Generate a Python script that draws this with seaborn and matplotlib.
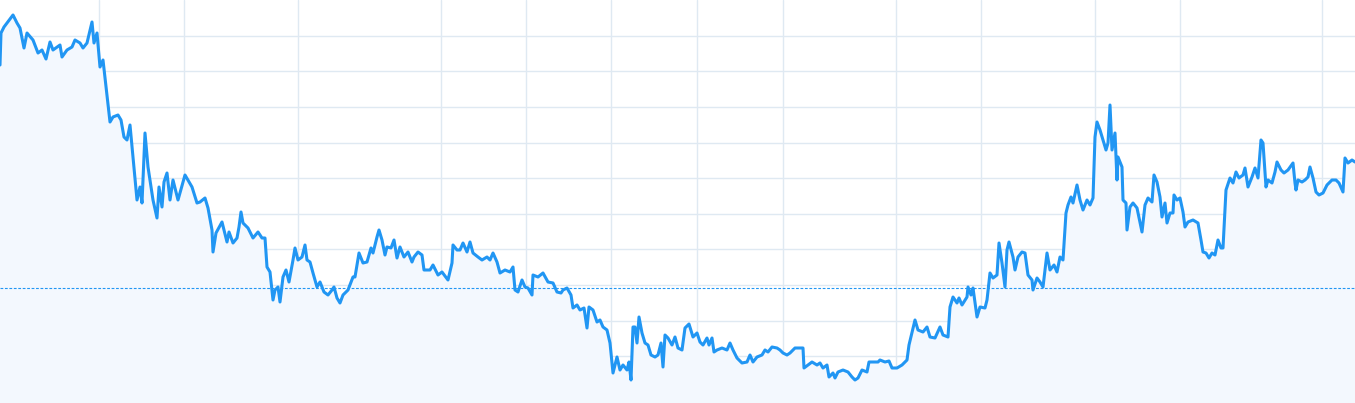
import numpy as np
import pandas as pd
import matplotlib
matplotlib.use("Agg")
import matplotlib.pyplot as plt
import seaborn as sns

# Price series (x = time position, y = price level)
day = [0, 1, 4, 7, 13, 17, 20, 24, 27, 33, 38, 42, 46, 50, 53, 60, 62, 67, 72, 75,
       80, 83, 87, 92, 94, 97, 100, 103, 106, 110, 113, 118, 121, 124, 127, 130, 133, 137, 140, 142,
       145, 148, 153, 157, 159, 162, 164, 167, 170, 173, 178, 185, 192, 197,
       200, 205, 208, 212, 213, 216, 222, 227, 229, 233, 237, 239, 241, 243, 248, 253, 258, 262, 265, 267,
       270, 273, 275, 278, 280, 283, 286, 289, 293, 295, 298, 302, 305, 307, 310, 313, 317, 320, 324, 328,
       332, 334, 337, 340, 343, 348, 353, 355, 359, 363, 367, 371, 373, 377, 379, 382, 385, 387, 391, 394,
       397, 400, 404, 408, 412, 414, 418, 422, 424, 430, 433, 438,
       442, 448, 452, 453, 457, 460, 463, 467, 470, 473, 478, 482, 487, 490, 493, 497, 500, 505, 510, 513,
       515, 518, 522, 525, 528, 532, 533, 538, 543, 548, 553, 557, 561, 563, 567, 571, 573, 577, 580, 584,
       587, 589, 593, 597, 600, 603, 607, 610, 613, 617, 620, 623, 627, 629, 631, 633, 635, 637, 639, 642,
       645, 648, 651, 655, 658, 661, 663, 665, 668, 672, 675,
       678, 682, 685, 689, 693, 697, 700, 703, 707, 709, 712, 714, 717, 722, 727, 730, 733, 737, 742, 747,
       750, 753, 757, 762, 765, 768, 772, 777, 780, 783, 787, 790, 795, 798, 803, 804, 808, 812, 817, 820,
       823, 827, 829, 833, 835, 838, 843, 848, 852, 855, 858, 862, 867, 869, 873, 878, 880, 885, 889, 892,
       897, 902, 905, 907, 909,
       915, 918, 923, 927, 930, 935, 940, 943, 948, 950, 953, 957, 959, 962, 967, 968, 971, 973, 977, 980,
       985, 987, 990, 993, 997, 999, 1002, 1005, 1007, 1009, 1013, 1015, 1018, 1022, 1025, 1028, 1032, 1033, 1037, 1040,
       1043, 1047, 1050, 1054, 1057, 1060, 1063, 1066, 1068, 1071, 1073, 1077, 1080, 1083, 1087, 1090, 1093, 1095, 1097, 1100,
       1103, 1106, 1108, 1110, 1112, 1115, 1117, 1118, 1122, 1123, 1126, 1127,
       1130, 1133, 1137, 1142, 1145, 1148, 1152, 1154, 1157, 1160, 1162, 1165, 1167, 1170, 1173, 1174, 1177, 1180, 1183, 1185,
       1188, 1193, 1198, 1201, 1203, 1206, 1209, 1212, 1215, 1218, 1221, 1223, 1226, 1230, 1233, 1236, 1239, 1243, 1245, 1248,
       1252, 1255, 1258, 1261, 1263, 1266, 1268, 1272, 1275, 1277, 1281, 1284, 1288, 1293, 1295, 1296, 1298, 1302, 1305, 1308,
       1310, 1313, 1316, 1319, 1323, 1327, 1332, 1336, 1339, 1343, 1345, 1348, 1352, 1355]

price = [338, 370, 376, 380, 388, 380, 375, 355, 370, 363, 350, 353, 344, 361, 353, 358, 346, 353, 356, 363,
         360, 355, 360, 381, 360, 370, 336, 343, 316, 281, 286, 288, 283, 266, 263, 278, 246, 203, 216, 200,
         270, 236, 203, 185, 216, 196, 221, 230, 203, 223, 203, 228, 216, 200,
         201, 205, 195, 173, 151, 170, 181, 161, 171, 160, 165, 176, 191, 180, 175, 165, 171, 165, 165, 136,
         131, 103, 113, 116, 101, 126, 133, 121, 143, 155, 143, 146, 158, 143, 141, 130, 116, 121, 111, 108,
         113, 116, 105, 100, 108, 113, 126, 126, 150, 140, 141, 155, 150, 166, 173, 163, 148, 156, 155, 163,
         145, 156, 146, 151, 141, 146, 151, 148, 133, 133, 138, 128,
         131, 123, 140, 158, 153, 153, 160, 151, 161, 150, 146, 143, 146, 143, 150, 141, 130, 133, 131, 136,
         113, 111, 123, 116, 115, 108, 128, 126, 130, 121, 120, 111, 110, 113, 115, 108, 95, 98, 93, 95,
         75, 96, 93, 81, 83, 76, 73, 60, 30, 46, 33, 38, 33, 41, 23, 76, 76, 60, 86, 70,
         60, 58, 48, 46, 48, 60, 36, 68, 65, 58, 66,
         55, 53, 75, 79, 66, 70, 61, 58, 65, 58, 65, 51, 53, 55, 53, 60, 53, 45, 40, 41,
         48, 41, 46, 48, 53, 51, 56, 55, 53, 50, 48, 50, 55, 55, 55, 35, 38, 41, 38, 40,
         35, 38, 26, 30, 25, 31, 33, 31, 26, 23, 25, 33, 31, 41, 41, 41, 43, 41, 42, 35,
         35, 38, 41, 43, 58,
         83, 73, 71, 76, 66, 65, 76, 68, 66, 96, 106, 100, 105, 98, 106, 116, 108, 115, 86, 96,
         95, 103, 130, 125, 128, 160, 140, 116, 153, 161, 146, 133, 146, 151, 150, 128, 123, 113, 125, 121,
         116, 150, 133, 138, 131, 146, 143, 190, 198, 206, 200, 218, 203, 193, 203, 198, 205, 266, 281, 273,
         263, 253, 260, 298, 253, 270, 223, 246, 236, 203, 200, 173,
         196, 200, 195, 171, 198, 205, 201, 228, 221, 206, 186, 200, 180, 190, 190, 208, 203, 205, 191, 176,
         181, 183, 180, 163, 151, 150, 145, 150, 148, 163, 155, 155, 213, 225, 220, 231, 225, 228, 235, 216,
         226, 235, 225, 263, 260, 216, 223, 220, 231, 241, 233, 230, 233, 240, 220, 213, 223, 221, 223, 226,
         236, 225, 211, 208, 210, 218, 223, 223, 220, 211, 245, 240, 243, 241]

ref_level = 114.7
vgrid = [99, 184, 298, 441, 526, 611, 697, 783, 896, 981, 1095, 1180, 1322]
hgrid = [11, 47, 82, 118, 154, 189, 225, 260, 296, 332, 367]

df = pd.DataFrame({"day": day, "price": price})

sns.set_style("white")
fig = plt.figure(figsize=(13.55, 4.03), dpi=100)
ax = fig.add_axes([0, 0, 1, 1])

ax.fill_between(df["day"], df["price"], 0, color="#f3f8fe", zorder=1, linewidth=0)
sns.lineplot(data=df, x="day", y="price", ax=ax, color="#2196f3", linewidth=2.2,
             estimator=None, sort=False, zorder=3)
ax.axhline(ref_level, color="#2196f3", linewidth=0.8, linestyle=(0, (2.5, 1.5)), zorder=2)

ax.set_xticks(vgrid)
ax.set_yticks(hgrid)
ax.grid(True, color="#dfe9f2", linewidth=1.0, zorder=0)
ax.set_axisbelow(True)
ax.tick_params(length=0, labelbottom=False, labelleft=False)
for s in ax.spines.values():
    s.set_visible(False)
ax.set_xlabel("")
ax.set_ylabel("")
ax.set_xlim(0, 1355)
ax.set_ylim(0, 403)

fig.savefig("out.png", dpi=100)
